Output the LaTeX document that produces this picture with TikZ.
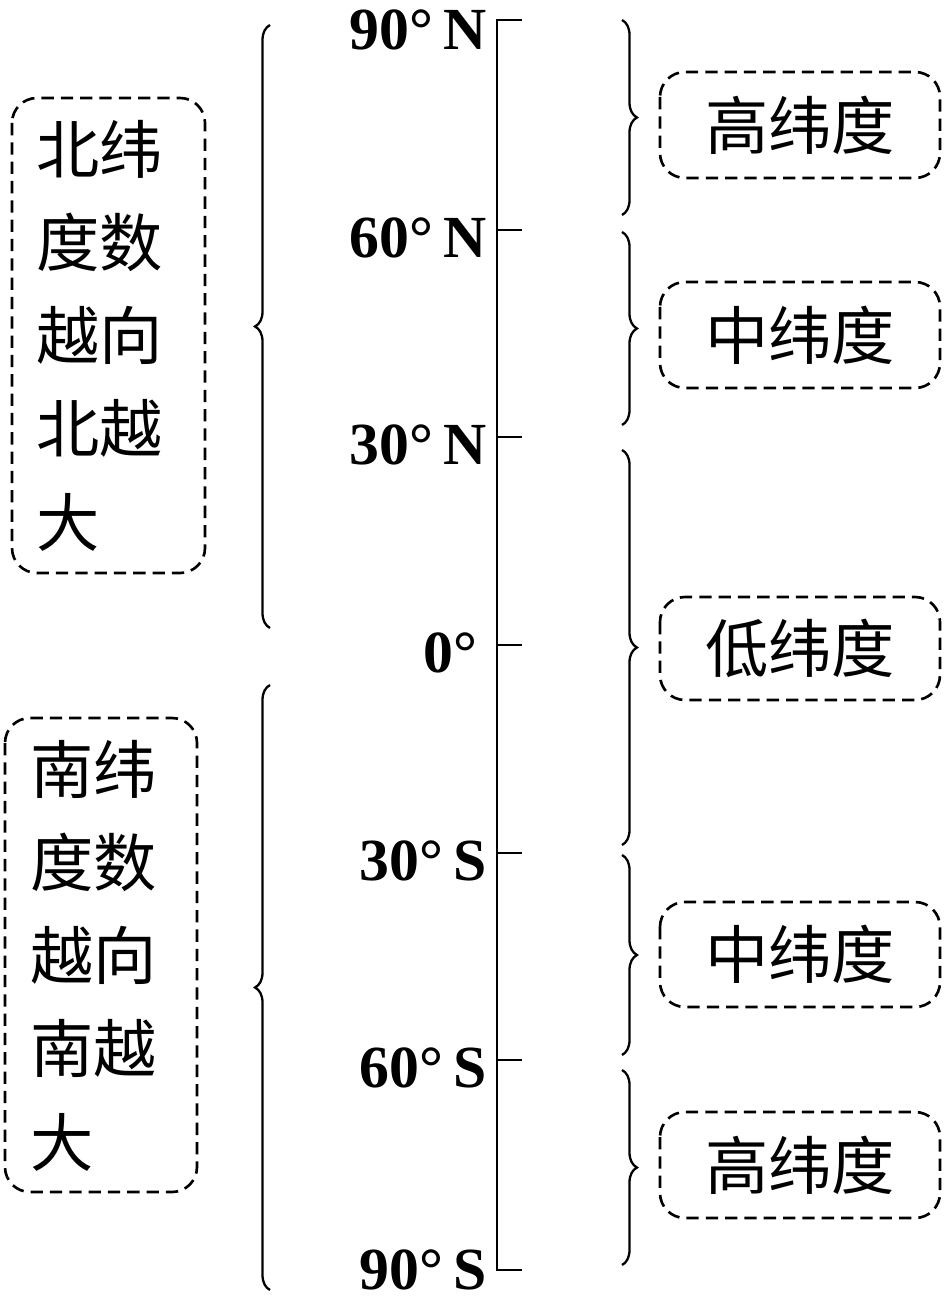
\documentclass[tikz,border=0pt]{standalone}
\usepackage{fontspec}
\setmainfont{Liberation Serif}
\newfontfamily\cjk{Noto Sans CJK SC}
\usetikzlibrary{decorations.pathreplacing}
\begin{document}
\begin{tikzpicture}[x=0.02cm,y=-0.02cm,
  lbl/.style={anchor=east,font=\fontsize{34}{34}\selectfont\bfseries,inner sep=0pt},
  dbox/.style={draw,dash pattern=on 7pt off 4pt,line width=1.5pt,rounded corners=0.5cm},
  cj/.style={font=\cjk\fontsize{36}{53}\selectfont,inner sep=0pt},
  brc/.style={decorate,decoration={brace,amplitude=0.3cm},line width=1.3pt}]
\useasboundingbox (0,0) rectangle (945,1300);
% axis
\coordinate (t0) at (497,20);
\coordinate (t6) at (497,1270);
\draw[line width=1.5pt] (522,20) -- (t0) -- (t6) -- (522,1270);
\foreach \y/\n in {230/1,437/2,645/3,853/4,1060/5}{
  \coordinate (t\n) at (497,\y);
  \draw[line width=1.5pt] (t\n) -- ++(25,0);
}
\node[lbl] (l0) at (487,30) {90°\,N};
\node[lbl] (l1) at (487,238) {60°\,N};
\node[lbl] (l2) at (487,445) {30°\,N};
\node[lbl] (l3) at (478,653) {0°};
\node[lbl] (l4) at (487,861) {30°\,S};
\node[lbl] (l5) at (487,1068) {60°\,S};
\node[lbl] (l6) at (487,1270) {90°\,S};
% left braces
\coordinate (lb1) at (270,628); \coordinate (lt1) at (270,25);
\coordinate (lb2) at (270,1290); \coordinate (lt2) at (270,685);
\draw[brc] (lb1) -- (lt1);
\draw[brc] (lb2) -- (lt2);
% left boxes
\draw[dbox] (12,98) rectangle (205,573);
\node[cj,align=left,anchor=north west] (nb) at (36,120) {北纬\\度数\\越向\\北越\\大};
\draw[dbox] (5,718) rectangle (197,1192);
\node[cj,align=left,anchor=north west] (sb) at (30,740) {南纬\\度数\\越向\\南越\\大};
% right braces
\foreach \a/\b/\n in {20/215/1,232/425/2,450/845/3,855/1055/4,1070/1265/5}{
  \coordinate (ra\n) at (622,\a); \coordinate (rb\n) at (622,\b);
  \draw[brc] (ra\n) -- (rb\n);
}
\foreach \a/\b/\t/\n in {72/178/高纬度/1,282/388/中纬度/2,597/700/低纬度/3,902/1007/中纬度/4,1112/1218/高纬度/5}{
  \draw[dbox] (660,\a) rectangle (940,\b);
  \node[cj] (z\n) at (800,{(\a+\b)/2}) {\t};
}
\end{tikzpicture}
\end{document}
